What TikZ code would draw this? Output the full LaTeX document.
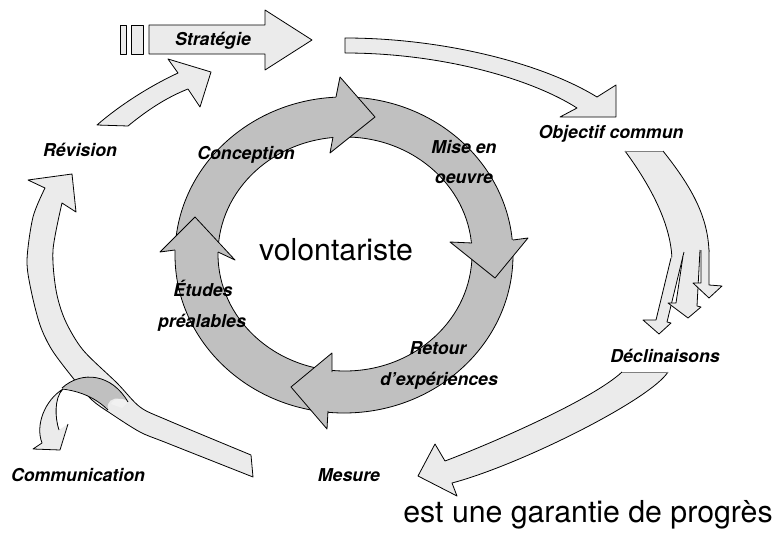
\documentclass[tikz,border=0pt]{standalone}
\usepackage{fontspec}
\setmainfont{TeX Gyre Heros}
\definecolor{lightfill}{HTML}{EBEBEB}
\definecolor{ringfill}{HTML}{C0C0C0}
\newcommand\fdopen[2]{\fill[#1] #2 -- cycle; \draw #2;}
\begin{document}
\begin{tikzpicture}[x=0.75pt,y=-0.75pt,line width=0.6pt,line join=round,
  lbl/.style={font=\fontsize{13.3}{15}\selectfont\bfseries\itshape,inner sep=0pt,anchor=base},
  big/.style={font=\fontsize{22.7}{26}\selectfont,inner sep=0pt,anchor=base},
  lightarrow/.style={fill=lightfill,draw=black},
  ringarrow/.style={fill=ringfill,draw=black}]
\useasboundingbox (0,0) rectangle (782,539);

% Strategie arrow
\filldraw[lightarrow] (120,25) rectangle (126,54);
\filldraw[lightarrow] (131,25) rectangle (143,54);
\filldraw[lightarrow] (149,25) -- (265,25) -- (265,10) -- (312,40) -- (265,70) -- (265,54) -- (149,54) -- cycle;

% Revision -> Strategie
\filldraw[lightarrow] (97,125) .. controls (120,105) and (150,86) .. (178,73) -- (168,59) -- (211,72) -- (200,107) -- (188,89) .. controls (165,98) and (145,112) .. (128,126) -- cycle;

% Strategie -> Objectif commun
\filldraw[lightarrow] (345,38) .. controls (440,38) and (540,62) .. (597,97) -- (616,85) -- (616,117) -- (560,117) -- (577,108) .. controls (530,78) and (440,53) .. (345,53) -- cycle;

% Objectif commun -> Declinaisons
\fill[lightfill] (625,151) .. controls (650,185) and (672,225) .. (672,262) -- (709,252) .. controls (708,215) and (690,185) .. (663,151) -- cycle;
\draw (625,151) .. controls (650,185) and (672,225) .. (672,262);
\draw (663,151) .. controls (690,185) and (708,215) .. (709,252);
\draw[gray] (625,151) -- (663,151);
\fdopen{lightfill}{(671,258) -- (656,320) -- (643,320) -- (659,334) -- (671,323) -- (667,322) -- (684,252)}
\fdopen{lightfill}{(683,256) -- (676,303) -- (668,303) -- (688,318) -- (701,307) -- (697,306) -- (700,250)}
\fdopen{lightfill}{(701,250) -- (701,283) -- (693,283) -- (709,298) -- (722,286) -- (709,285) -- (709,250)}

% Declinaisons -> Mesure
\fdopen{lightfill}{(668,372) .. controls (650,400) and (520,465) .. (452,483) -- (457,496) -- (418,476) -- (435,444) -- (445,461) .. controls (490,444) and (592,400) .. (622,372)}
\draw[gray] (622,372) -- (668,372);

% big left arc (Mesure -> Revision)
\filldraw[lightarrow] plot[smooth] coordinates {(253,477) (167,443) (140,432) (110,413) (92,400) (73,378) (52,350) (40,325) (31,290) (27,260) (33,217) (45,188)} -- (28,180) -- (72,174) -- (76,212) -- plot[smooth] coordinates {(62,203) (53,250) (56,290) (65,320) (83,350) (117,383) (140,407) (167,420) (251,455)} -- cycle;

% Communication arrow and twist
\fdopen{lightfill}{(59,430) .. controls (55,418) and (54,398) .. (63,389) .. controls (45,400) and (35,425) .. (42,443) -- (33,449) -- (60,450) -- (68,424)}
\fill[ringfill] (62,388) .. controls (82,370) and (112,374) .. (128,402) -- (120,399) .. controls (112,397) and (106,402) .. (108,409) .. controls (96,398) and (80,391) .. (62,388) -- cycle;
\fill[lightfill!70!white] (111,404) .. controls (113,398) and (124,397) .. (128,402) -- (122,408) -- cycle;
\draw (62,388) .. controls (82,370) and (112,374) .. (128,402);
\draw (62,389) .. controls (80,391) and (96,398) .. (108,410);

% central ring
\filldraw[ringarrow,even odd rule] (344,255) ellipse [x radius=126.75pt, y radius=118.5pt] (345,254) ellipse [x radius=95.25pt, y radius=87.75pt];
\fdopen{ringfill}{(336,97) -- (340,77) -- (375,117) -- (330,153) -- (333,137)}
\fdopen{ringfill}{(472,243) -- (450,242) -- (495,278) -- (528,238) -- (513,240)}
\fdopen{ringfill}{(328,411) -- (327,429) -- (291,387) -- (332,353) -- (332,372)}
\fdopen{ringfill}{(175,250) -- (160,252) -- (195,217) -- (235,260) -- (218,252)}

% labels
\node[lbl] (strat) at (213,45) {Stratégie};
\node[lbl] (obj) at (611,138) {Objectif commun};
\node[lbl] (rev) at (80,156) {Révision};
\node[lbl] (conc) at (246,159) {Conception};
\node[lbl] (mise1) at (464,153) {Mise en};
\node[lbl] (mise2) at (464,183) {oeuvre};
\node[lbl] (etu1) at (203,296) {Études};
\node[lbl] (etu2) at (202,327) {préalables};
\node[lbl] (ret1) at (438,354) {Retour};
\node[lbl] (ret2) at (439,385) {d’expériences};
\node[lbl] (decl) at (665,362) {Déclinaisons};
\node[lbl] (mes) at (349,481) {Mesure};
\node[lbl] (comm) at (78,481) {Communication};
\node[big] (vol) at (336,260) {volontariste};
\node[big] (garantie) at (588,522) {est une garantie de progrès};
\end{tikzpicture}
\end{document}
